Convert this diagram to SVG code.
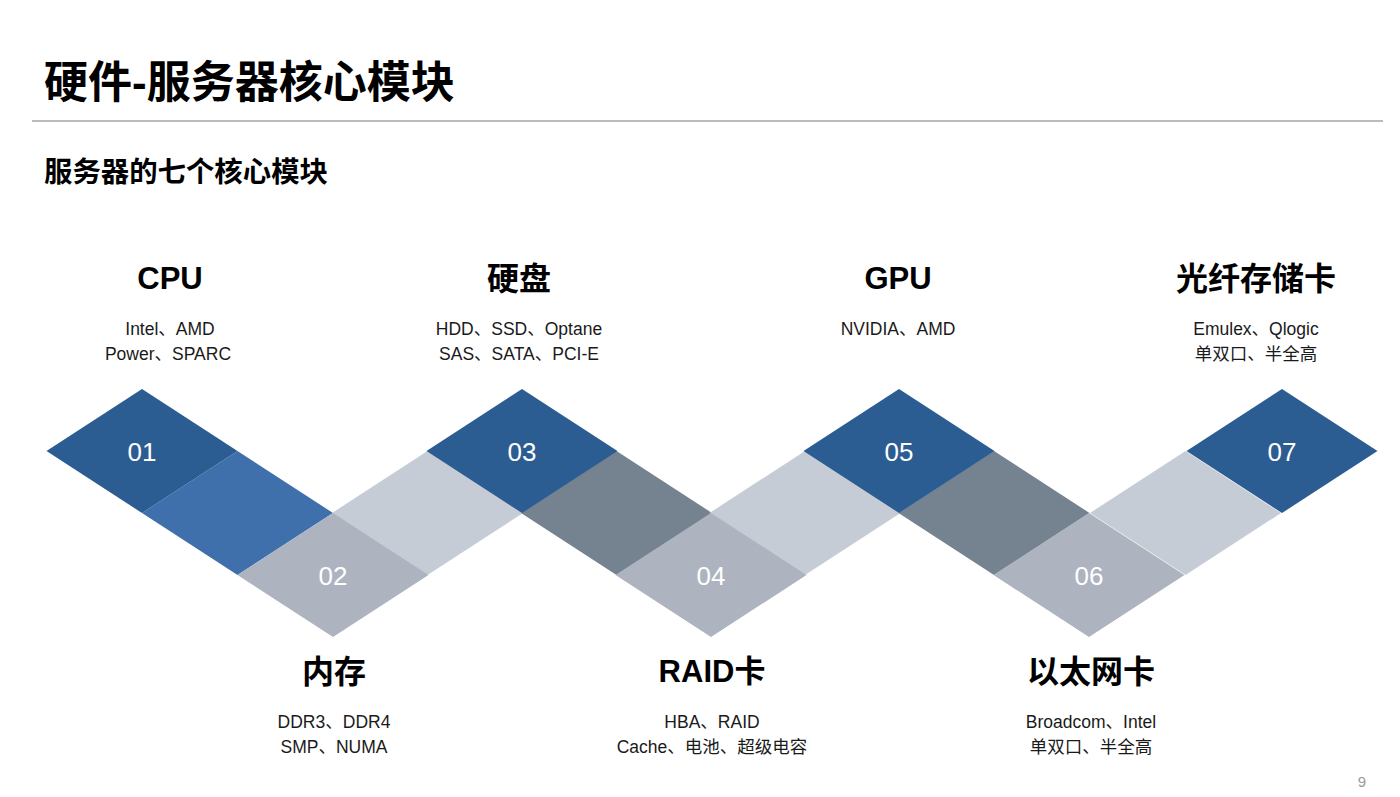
<svg xmlns="http://www.w3.org/2000/svg" width="1400" height="797" viewBox="0 0 1400 797">
<style>
  text { font-family: "Liberation Sans", "Noto Sans CJK SC", Arial, sans-serif; }
  .h1 { font-size: 44px; font-weight: bold; fill: #000; }
  .h2 { font-size: 28.4px; font-weight: bold; fill: #000; }
  .ttl { font-size: 31px; font-weight: bold; fill: #000; text-anchor: middle; }
  .ttlc { font-size: 32px; font-weight: bold; fill: #000; text-anchor: middle; }
  .sub { font-size: 17.5px; fill: #1a1a1a; text-anchor: middle; }
  .num { font-size: 26px; fill: #fff; text-anchor: middle; }
  .top { fill: #2B5C92; }
  .bot { fill: #ADB4BF; }
  .cblue { fill: #3F70AB; }
  .clight { fill: #C6CCD5; }
  .cdark { fill: #75828F; }
</style>
<defs>
  <polygon id="dia" points="-95.5,0 0,-62 95.5,0 0,62"/>
</defs>
<rect width="1400" height="797" fill="#fff"/>
<g id="header">
  <text class="h1" x="44" y="98">硬件-服务器核心模块</text>
  <line x1="32" y1="121" x2="1383" y2="121" stroke="#BBBBBB" stroke-width="2"/>
  <text class="h2" x="44" y="182">服务器的七个核心模块</text>
</g>
<g id="connectors">
  <use href="#dia" class="cblue" x="237.5" y="513"/>
  <use href="#dia" class="clight" x="427.5" y="513"/>
  <use href="#dia" class="cdark" x="616.5" y="513"/>
  <use href="#dia" class="clight" x="805" y="513"/>
  <use href="#dia" class="cdark" x="994" y="513"/>
  <use href="#dia" class="clight" x="1185.5" y="513"/>
</g>
<g id="node01">
  <use href="#dia" class="top" x="142" y="451"/>
  <text class="num" x="142" y="461">01</text>
  <text class="ttl" x="170" y="289">CPU</text>
  <text class="sub" x="170" y="335">Intel、AMD</text>
  <text class="sub" x="168" y="360">Power、SPARC</text>
</g>
<g id="node02">
  <use href="#dia" class="bot" x="333" y="575"/>
  <text class="num" x="333" y="585">02</text>
  <text class="ttlc" x="334" y="683">内存</text>
  <text class="sub" x="334" y="728">DDR3、DDR4</text>
  <text class="sub" x="334" y="753">SMP、NUMA</text>
</g>
<g id="node03">
  <use href="#dia" class="top" x="522" y="451"/>
  <text class="num" x="522" y="461">03</text>
  <text class="ttlc" x="519" y="290">硬盘</text>
  <text class="sub" x="519" y="335">HDD、SSD、Optane</text>
  <text class="sub" x="519" y="360">SAS、SATA、PCI-E</text>
</g>
<g id="node04">
  <use href="#dia" class="bot" x="711" y="575"/>
  <text class="num" x="711" y="585">04</text>
  <text class="ttl" x="712" y="682">RAID卡</text>
  <text class="sub" x="712" y="728">HBA、RAID</text>
  <text class="sub" x="712" y="753">Cache、电池、超级电容</text>
</g>
<g id="node05">
  <use href="#dia" class="top" x="899" y="451"/>
  <text class="num" x="899" y="461">05</text>
  <text class="ttl" x="898" y="289">GPU</text>
  <text class="sub" x="898" y="335">NVIDIA、AMD</text>
</g>
<g id="node06">
  <use href="#dia" class="bot" x="1089" y="575"/>
  <text class="num" x="1089" y="585">06</text>
  <text class="ttlc" x="1091" y="683">以太网卡</text>
  <text class="sub" x="1091" y="728">Broadcom、Intel</text>
  <text class="sub" x="1091" y="753">单双口、半全高</text>
</g>
<g id="node07">
  <use href="#dia" class="top" x="1282" y="451"/>
  <text class="num" x="1282" y="461">07</text>
  <text class="ttlc" x="1256" y="290">光纤存储卡</text>
  <text class="sub" x="1256" y="335">Emulex、Qlogic</text>
  <text class="sub" x="1256" y="360">单双口、半全高</text>
</g>
<text x="1362" y="787" font-size="15" fill="#999" text-anchor="middle">9</text>
</svg>
